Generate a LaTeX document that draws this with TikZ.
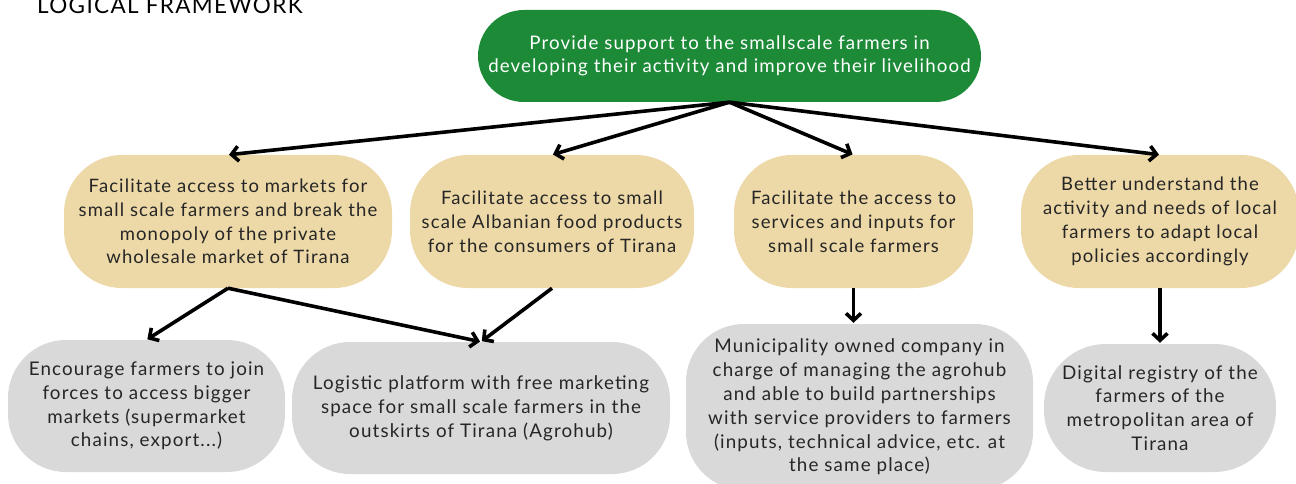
\documentclass[tikz,border=0pt]{standalone}
\usepackage{fontspec}
\setmainfont{Lato}[LetterSpace=6]
\usetikzlibrary{arrows.meta}
\definecolor{goalgreen}{HTML}{1C8A37}
\definecolor{objtan}{HTML}{EDD9A7}
\definecolor{actgray}{HTML}{D9D9D9}
\definecolor{inktext}{HTML}{262626}
\begin{document}
\begin{tikzpicture}[x=1pt,y=-1pt,
  pill/.style={shape=rectangle, rounded corners=58pt, inner sep=0pt, align=center,
    text=inktext, font=\fontsize{18.5}{23.8}\selectfont},
  goalbox/.style={pill, fill=goalgreen, text=white, rounded corners=46pt,
    font=\fontsize{18.7}{23.5}\selectfont},
  objbox/.style={pill, fill=objtan},
  actbox/.style={pill, fill=actgray, font=\fontsize{18.8}{23.8}\selectfont},
  link/.style={draw=black, line width=3.6pt, -{Straight Barb[length=7pt,width=15pt,line width=3.6pt]}, shorten >=1pt}]
\useasboundingbox (0,0) rectangle (1296,484);

% heading
\node[anchor=base west, inner sep=0pt, font=\fontsize{22.5}{22.5}\selectfont, text=black] (title) at (37,14) {LOGICAL FRAMEWORK};

% overall goal
\node[goalbox, minimum width=503pt, minimum height=92pt] (goal) at (729.5,56)
  {Provide support to the smallscale farmers in\\developing their activity and improve their livelihood};

% objectives
\node[objbox, minimum width=328pt, minimum height=133pt] (o1) at (228,221.5)
  {Facilitate access to markets for\\small scale farmers and break the\\monopoly of the private\\wholesale market of Tirana};
\node[objbox, minimum width=284pt, minimum height=133pt] (o2) at (552,221.5)
  {Facilitate access to small\\scale Albanian food products\\for the consumers of Tirana};
\node[objbox, minimum width=239pt, minimum height=133pt] (o3) at (853.5,221.5)
  {Facilitate the access to\\services and inputs for\\small scale farmers};
\node[objbox, minimum width=278pt, minimum height=133pt] (o4) at (1160,221.5)
  {Better understand the\\activity and needs of local\\farmers to adapt local\\policies accordingly};

% activities
\node[actbox, minimum width=277pt, minimum height=132pt] (a1) at (146.5,406)
  {Encourage farmers to join\\forces to access bigger\\markets (supermarket\\chains, export...)};
\node[actbox, minimum width=378pt, minimum height=132pt] (a2) at (481,408)
  {Logistic platform with free marketing\\space for small scale farmers in the\\outskirts of Tirana (Agrohub)};
\node[actbox, minimum width=347pt, minimum height=166pt] (a3) at (859.5,407)
  {Municipality owned company in\\charge of managing the agrohub\\and able to build partnerships\\with service providers to farmers\\(inputs, technical advice, etc. at\\the same place)};
\node[actbox, minimum width=232pt, minimum height=128pt, rounded corners=62pt] (a4) at (1160,408)
  {Digital registry of the\\farmers of the\\metropolitan area of\\Tirana};

% goal to objectives
\draw[link] (goal.south) -- (o1.north);
\draw[link] (goal.south) -- (o2.north);
\draw[link] (goal.south) -- (o3.north);
\draw[link] (goal.south) -- (o4.north);

% objectives to activities
\draw[link] (o1.south) -- (a1.north);
\draw[link] (o1.south) -- (a2.north);
\draw[link] (o2.south) -- (a2.north);
\draw[link] (o3.south) -- ([xshift=-6pt]a3.north);
\draw[link] (o4.south) -- (a4.north);
\end{tikzpicture}
\end{document}
